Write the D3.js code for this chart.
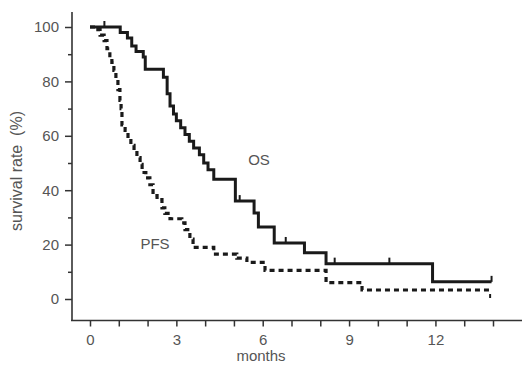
<!DOCTYPE html>
<html lang="en">
<head>
<meta charset="UTF-8">
<title>Survival</title>
<style>
    body { margin: 0; background: #fff; }
    svg { display: block; }
    text { font-family: "Liberation Sans", Arial, sans-serif; fill: #555; white-space: pre; }
</style>
</head>
<body>
<div id="chart"></div>
<script src="https://cdn.jsdelivr.net/npm/d3@7/dist/d3.min.js"></script>
<script>
    // OS (solid) - step times in months and survival after each step
    var osTime = [0, 1.05, 1.3, 1.45, 1.6, 1.85, 1.92, 2.55, 2.68, 2.78, 2.9, 3.0, 3.15, 3.3, 3.45, 3.6, 3.8, 3.95, 4.1, 4.3, 5.05, 5.7, 5.85, 6.4, 7.45, 8.2, 11.9];
    var osSurv = [100, 98, 96, 93, 91, 89, 84.5, 81.5, 75.5, 71, 68, 65.5, 63, 60.5, 58, 55.5, 53, 50, 47.5, 44, 36, 31.6, 26.5, 20.6, 17, 13, 6.3];
    var osEnd = 13.95;
    var osCensor = [0.5, 5.2, 6.8, 8.5, 10.4, 13.95];

    // PFS (dashed)
    var pfsTime = [0, 0.2, 0.35, 0.49, 0.59, 0.69, 0.76, 0.83, 0.9, 0.97, 1.04, 1.08, 1.11, 1.22, 1.32, 1.42, 1.53, 1.63, 1.74, 1.81, 1.94, 2.08, 2.19, 2.33, 2.5, 2.6, 2.78, 3.19, 3.3, 3.47, 3.58, 4.3, 5.1, 5.45, 6.08, 8.2, 9.45];
    var pfsSurv = [100, 99, 97, 95, 92, 89.5, 87, 84, 80.5, 77, 73, 70, 64, 62, 59, 56.5, 54.5, 52, 49.5, 46.5, 44.5, 42, 38, 36.5, 33.5, 31.5, 29.5, 28, 25.5, 22, 19, 16.5, 15, 13.5, 10.5, 6, 3.3];
    var pfsEnd = 13.9;

    var xTicks = d3.range(0, 15);
    var xLabels = [0, 3, 6, 9, 12];
    var yTicks = d3.range(0, 101, 10);
    var yLabels = [0, 20, 40, 60, 80, 100];

    var width = 526, height = 366;

    var svg = d3.select('#chart').append('svg')
        .attr('width', width)
        .attr('height', height);

    var x = d3.scaleLinear().domain([0, 14]).range([90, 493]);
    var y = d3.scaleLinear().domain([0, 100]).range([299, 27]);

    var axisColor = '#333';

    // axis lines
    svg.append('line')
        .attr('x1', 72).attr('x2', 72).attr('y1', 12).attr('y2', 321)
        .attr('stroke', axisColor).attr('stroke-width', 1.6);
    svg.append('line')
        .attr('x1', 71).attr('x2', 522).attr('y1', 320.5).attr('y2', 320.5)
        .attr('stroke', axisColor).attr('stroke-width', 1.6);

    // x axis
    var xAxis = d3.axisBottom(x)
        .tickValues(xTicks)
        .tickSize(6)
        .tickFormat(function (d) { return xLabels.indexOf(d) >= 0 ? d : ''; });
    var gx = svg.append('g').attr('transform', 'translate(0,320.5)').call(xAxis);
    gx.select('.domain').remove();
    gx.selectAll('line').attr('stroke', axisColor).attr('stroke-width', 1.5);
    gx.selectAll('text').attr('font-size', 15).attr('y', 10).attr('dy', '0.95em').style('fill', '#555');

    // y axis
    var yAxis = d3.axisLeft(y)
        .tickValues(yTicks)
        .tickSize(6)
        .tickFormat(function (d) { return yLabels.indexOf(d) >= 0 ? d : ''; });
    var gy = svg.append('g').attr('transform', 'translate(72,0)').call(yAxis);
    gy.select('.domain').remove();
    gy.selectAll('line').attr('stroke', axisColor).attr('stroke-width', 1.5)
        .attr('x2', function (d) { return yLabels.indexOf(d) >= 0 ? -7 : -4; });
    gy.selectAll('text').attr('font-size', 15).attr('x', -13).style('fill', '#555');

    // axis titles
    svg.append('text')
        .attr('transform', 'translate(22,171) rotate(-90)')
        .attr('text-anchor', 'middle')
        .attr('font-size', 16)
        .text('survival rate  (%)');
    svg.append('text')
        .attr('x', 261).attr('y', 361)
        .attr('text-anchor', 'middle')
        .attr('font-size', 15)
        .text('months');

    function stepData(times, surv, end) {
        var pts = times.map(function (t, i) { return [t, surv[i]]; });
        pts.push([end, surv[surv.length - 1]]);
        return pts;
    }

    var line = d3.line()
        .x(function (d) { return x(d[0]); })
        .y(function (d) { return y(d[1]); })
        .curve(d3.curveStepAfter);

    var lineColor = '#1a1a1a';

    // OS
    var osPts = stepData(osTime, osSurv, osEnd);
    svg.append('path')
        .datum(osPts)
        .attr('d', line)
        .attr('fill', 'none')
        .attr('stroke', lineColor)
        .attr('stroke-width', 3);

    function survAt(times, surv, t) {
        var v = surv[0];
        for (var i = 0; i < times.length; i++) if (times[i] <= t) v = surv[i];
        return v;
    }

    svg.selectAll('.os-censor')
        .data(osCensor)
        .enter().append('line')
        .attr('class', 'os-censor')
        .attr('x1', function (d) { return x(d); })
        .attr('x2', function (d) { return x(d); })
        .attr('y1', function (d) { return y(survAt(osTime, osSurv, d)); })
        .attr('y2', function (d) { return y(survAt(osTime, osSurv, d)) - 6; })
        .attr('stroke', lineColor)
        .attr('stroke-width', 2);

    // PFS
    var pfsPts = stepData(pfsTime, pfsSurv, pfsEnd);
    svg.append('path')
        .datum(pfsPts)
        .attr('d', line)
        .attr('fill', 'none')
        .attr('stroke', lineColor)
        .attr('stroke-width', 3.2)
        .attr('stroke-dasharray', '5,4');

    svg.append('line')
        .attr('x1', x(pfsEnd)).attr('x2', x(pfsEnd))
        .attr('y1', y(pfsSurv[pfsSurv.length - 1]) + 4)
        .attr('y2', y(pfsSurv[pfsSurv.length - 1]) + 8)
        .attr('stroke', lineColor)
        .attr('stroke-width', 2);

    // curve labels
    svg.append('text').attr('x', 259).attr('y', 165).attr('text-anchor', 'middle')
        .attr('font-size', 15).text('OS');
    svg.append('text').attr('x', 155).attr('y', 249).attr('text-anchor', 'middle')
        .attr('font-size', 15).text('PFS');
</script>
</body>
</html>
